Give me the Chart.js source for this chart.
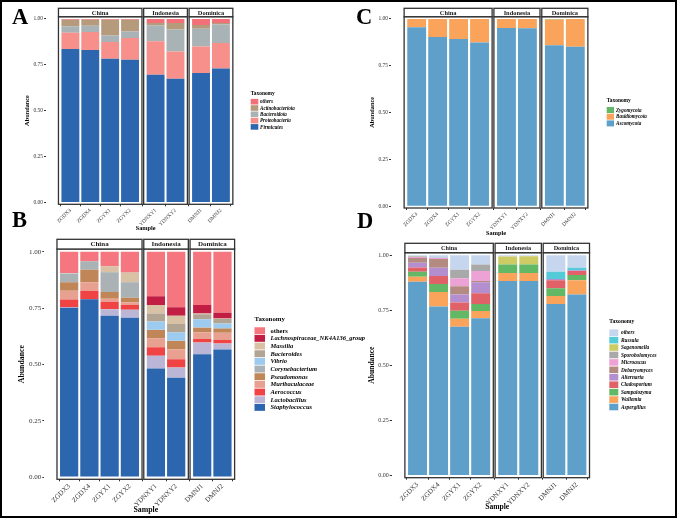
<!DOCTYPE html>
<html>
<head>
<meta charset="utf-8">
<script src="https://cdn.jsdelivr.net/npm/chart.js@4.4.0/dist/chart.umd.min.js"></script>
<style>
html, body { margin: 0; padding: 0; background: #fff; }
#fig { position: relative; width: 677px; height: 518px; overflow: hidden; }
#fig canvas { position: absolute; left: 0; top: 0; }
.frame { position: absolute; left: 0; top: 0; width: 677px; height: 518px; box-sizing: border-box; border: 2px solid #000; pointer-events: none; }
.tag { position: absolute; font: bold 22.5px "Liberation Serif", serif; line-height: 1; color: #000; }
</style>
</head>
<body>
<div id="fig">
  <canvas id="cA" width="677" height="518"></canvas>
  <canvas id="cB" width="677" height="518"></canvas>
  <canvas id="cC" width="677" height="518"></canvas>
  <canvas id="cD" width="677" height="518"></canvas>
  <div class="tag" style="left:12px;top:6px">A</div>
  <div class="tag" style="left:12px;top:209px">B</div>
  <div class="tag" style="left:356px;top:6px">C</div>
  <div class="tag" style="left:357px;top:210px">D</div>
  <div class="frame"></div>
</div>
<script>
// samples and facets
var samples = ['ZGDX3', 'ZGDX4', 'ZGYX1', 'ZGYX2', 'YDNXY1', 'YDNXY2', 'DMNJ1', 'DMNJ2'];
var groups = ['China', 'Indonesia', 'Dominica'];
var groupSizes = [4, 2, 2];
var yTicks = [0, 0.25, 0.5, 0.75, 1];

// A - bacteria, phylum (bottom to top)
var bacPhylumTaxa = ['Firmicutes', 'Proteobacteria', 'Bacteroidota', 'Actinobacteriota', 'others'];
var bacPhylumColors = ['#2b66ae', '#f78f8a', '#a9b2b5', '#b59a7c', '#f37078'];
var bacPhylumValues = [
    [0.836, 0.831, 0.783, 0.778, 0.696, 0.674, 0.705, 0.730],
    [0.088, 0.098, 0.091, 0.118, 0.182, 0.149, 0.145, 0.139],
    [0.036, 0.034, 0.036, 0.035, 0.087, 0.119, 0.097, 0.100],
    [0.036, 0.033, 0.085, 0.064, 0.013, 0.036, 0.020, 0.009],
    [0.004, 0.004, 0.005, 0.005, 0.022, 0.022, 0.033, 0.022]
];

// B - bacteria, genus
var bacGenusTaxa = ['Staphylococcus', 'Lactobacillus', 'Aerococcus', 'Muribaculaceae', 'Pseudomonas',
    'Corynebacterium', 'Vibrio', 'Bacteroides', 'Massilia', 'Lachnospiraceae_NK4A136_group', 'others'];
var bacGenusColors = ['#2b66ae', '#bcb6d6', '#f04444', '#e8a090', '#c08658',
    '#aab2b5', '#9dcbf0', '#b2a493', '#d9c1a5', '#c21e44', '#f5767f'];
var bacGenusValues = [
    [0.751, 0.789, 0.716, 0.707, 0.482, 0.441, 0.545, 0.566],
    [0.003, 0.000, 0.029, 0.035, 0.056, 0.045, 0.052, 0.027],
    [0.034, 0.038, 0.033, 0.022, 0.038, 0.037, 0.016, 0.016],
    [0.039, 0.038, 0.013, 0.012, 0.039, 0.044, 0.030, 0.031],
    [0.038, 0.055, 0.030, 0.020, 0.038, 0.037, 0.020, 0.018],
    [0.037, 0.038, 0.085, 0.065, 0.001, 0.001, 0.001, 0.003],
    [0.001, 0.000, 0.001, 0.001, 0.036, 0.036, 0.036, 0.020],
    [0.001, 0.000, 0.003, 0.004, 0.036, 0.038, 0.022, 0.020],
    [0.001, 0.000, 0.025, 0.042, 0.038, 0.037, 0.004, 0.003],
    [0.001, 0.000, 0.001, 0.001, 0.038, 0.038, 0.038, 0.025],
    [0.094, 0.042, 0.064, 0.091, 0.198, 0.246, 0.236, 0.271]
];

// C - fungi, phylum
var funPhylumTaxa = ['Ascomycota', 'Basidiomycota', 'Zygomycota'];
var funPhylumColors = ['#5fa0cb', '#f9a35b', '#62b865'];
var funPhylumValues = [
    [0.956, 0.904, 0.893, 0.874, 0.952, 0.950, 0.860, 0.851],
    [0.044, 0.096, 0.107, 0.126, 0.048, 0.050, 0.137, 0.149],
    [0.000, 0.000, 0.000, 0.000, 0.000, 0.000, 0.003, 0.000]
];

// D - fungi, genus
var funGenusTaxa = ['Aspergillus', 'Wallemia', 'Sampaiozyma', 'Cladosporium', 'Alternaria',
    'Debaryomyces', 'Microascus', 'Sporobolomyces', 'Sagenomella', 'Russula', 'others'];
var funGenusColors = ['#5fa0cb', '#f9a35b', '#62b865', '#e06167', '#b38fd0',
    '#b38b80', '#eda2d6', '#a9a9a9', '#cdcc64', '#55cbd8', '#c6d6ef'];
var funGenusValues = [
    [0.880, 0.768, 0.676, 0.714, 0.884, 0.884, 0.779, 0.822],
    [0.023, 0.065, 0.036, 0.033, 0.036, 0.036, 0.036, 0.065],
    [0.022, 0.037, 0.036, 0.032, 0.038, 0.038, 0.036, 0.024],
    [0.020, 0.036, 0.038, 0.049, 0.000, 0.000, 0.036, 0.018],
    [0.021, 0.038, 0.036, 0.050, 0.000, 0.000, 0.005, 0.003],
    [0.022, 0.039, 0.038, 0.006, 0.000, 0.000, 0.000, 0.000],
    [0.005, 0.005, 0.036, 0.045, 0.000, 0.000, 0.000, 0.000],
    [0.002, 0.001, 0.038, 0.029, 0.000, 0.000, 0.000, 0.000],
    [0.001, 0.000, 0.000, 0.000, 0.037, 0.038, 0.000, 0.000],
    [0.001, 0.000, 0.000, 0.000, 0.000, 0.000, 0.034, 0.012],
    [0.003, 0.011, 0.066, 0.042, 0.005, 0.004, 0.074, 0.056]
];

var W = 677, H = 518;
var SERIF = '"Liberation Serif", "Times New Roman", serif';

// x positions in ggplot units: each facet spans n + 0.2, bars at 0.6 + k
function facetPositions(gap) {
    var facets = [], pos = [], cur = 0;
    groups.forEach(function(g, k) {
        var n = groupSizes[k];
        for (var j = 0; j < n; j++) pos.push(cur + 0.6 + j);
        facets.push({ name: g, start: cur, end: cur + n + 0.2 });
        cur += n + 0.2 + gap;
    });
    return { facets: facets, pos: pos, total: cur - gap };
}

// panel boxes, strips and legend
var facetPlugin = {
    id: 'facets',
    afterDraw: function(chart, args, o) {
        var ctx = chart.ctx, xs = chart.scales.x, a = chart.chartArea;
        ctx.save();
        ctx.lineWidth = 1.3;
        ctx.strokeStyle = '#333';
        o.facets.forEach(function(f) {
            var x0 = xs.getPixelForValue(f.start), x1 = xs.getPixelForValue(f.end);
            ctx.strokeRect(x0, a.top, x1 - x0, a.bottom - a.top);
            ctx.fillStyle = '#fff';
            ctx.fillRect(x0, a.top - o.stripH, x1 - x0, o.stripH);
            ctx.strokeRect(x0, a.top - o.stripH, x1 - x0, o.stripH);
            ctx.fillStyle = '#1a1a1a';
            ctx.font = 'bold ' + o.stripFont + 'px ' + SERIF;
            ctx.textAlign = 'center';
            ctx.textBaseline = 'middle';
            ctx.fillText(f.name, (x0 + x1) / 2, a.top - o.stripH / 2 + 0.5);
        });

        // legend, top entry = last dataset
        var lg = o.legend;
        ctx.textAlign = 'left';
        ctx.textBaseline = 'middle';
        ctx.fillStyle = '#000';
        ctx.font = 'bold ' + lg.titleFont + 'px ' + SERIF;
        ctx.fillText('Taxonomy', lg.x, lg.titleY);
        var ds = chart.data.datasets.slice().reverse();
        ds.forEach(function(d, i) {
            var y = lg.firstY + i * lg.pitch;
            ctx.fillStyle = d.backgroundColor;
            ctx.fillRect(lg.x, y - lg.keyH / 2, lg.keyW, lg.keyH);
            ctx.fillStyle = '#000';
            var upright = d.label === 'others' && lg.othersUpright;
            ctx.font = (upright ? '' : 'italic ') + 'bold ' + lg.labelFont + 'px ' + SERIF;
            ctx.fillText(d.label, lg.labelX, y + 0.3);
        });
        ctx.restore();
    }
};

function makePanel(id, taxa, values, colors, L) {
    var fp = facetPositions(0.085);
    var lh = L.titleFont * 1.2;
    var axisLeft = L.yTitleX - lh / 2;
    var axisBottom = L.xTitleY + lh / 2;

    var datasets = taxa.map(function(t, k) {
        return {
            label: t,
            backgroundColor: colors[k],
            borderWidth: 0,
            categoryPercentage: 1,
            barPercentage: 0.9,
            data: values[k].map(function(v, i) { return { x: fp.pos[i], y: v }; })
        };
    });

    return new Chart(document.getElementById(id), {
        type: 'bar',
        data: { datasets: datasets },
        options: {
            responsive: false,
            animation: false,
            layout: { padding: { left: axisLeft, right: W - L.box.r, top: L.box.t, bottom: H - axisBottom } },
            plugins: {
                legend: { display: false },
                tooltip: { enabled: false },
                facets: { facets: fp.facets, stripH: L.stripH, stripFont: L.stripFont, legend: L.legend }
            },
            scales: {
                x: {
                    type: 'linear',
                    stacked: true,
                    min: 0,
                    max: fp.total,
                    afterBuildTicks: function(s) { s.ticks = fp.pos.map(function(v) { return { value: v }; }); },
                    afterFit: function(s) { s.height = axisBottom - L.box.b; },
                    ticks: {
                        autoSkip: false, minRotation: 45, maxRotation: 45, padding: 1, color: '#333',
                        font: { family: SERIF, size: L.xTickFont },
                        callback: function(v, i) { return samples[i]; }
                    },
                    grid: { drawOnChartArea: false, drawTicks: true, tickLength: 2, color: '#333' },
                    border: { display: false },
                    title: { display: true, text: 'Sample', color: '#000', padding: 0,
                        font: { family: SERIF, size: L.titleFont, weight: 'bold' } }
                },
                y: {
                    stacked: true,
                    min: -0.01,
                    max: 1.012,
                    afterBuildTicks: function(s) { s.ticks = yTicks.map(function(v) { return { value: v }; }); },
                    afterFit: function(s) { s.width = L.box.l - axisLeft; },
                    ticks: {
                        padding: 1, color: '#333',
                        font: { family: SERIF, size: L.yTickFont },
                        callback: function(v) { return v.toFixed(2); }
                    },
                    grid: { drawOnChartArea: false, drawTicks: true, tickLength: 2, color: '#333' },
                    border: { display: false },
                    title: { display: true, text: 'Abundance', color: '#000', padding: 0,
                        font: { family: SERIF, size: L.titleFont, weight: 'bold' } }
                }
            }
        },
        plugins: [facetPlugin]
    });
}

makePanel('cA', bacPhylumTaxa, bacPhylumValues, bacPhylumColors, {
    box: { l: 46, r: 245.3, t: 16.7, b: 204.3 },
    yTitleX: 27, xTitleY: 228, titleFont: 6.3, yTickFont: 5.5, xTickFont: 5.4,
    stripH: 8.4, stripFont: 6.4,
    legend: { x: 250.7, titleY: 93.3, firstY: 101.7, pitch: 6.3, keyW: 7.6, keyH: 5.6, labelX: 260,
        titleFont: 5.4, labelFont: 5.1 }
});

makePanel('cB', bacGenusTaxa, bacGenusValues, bacGenusColors, {
    box: { l: 44.3, r: 247.3, t: 249, b: 479.3 },
    yTitleX: 21.5, xTitleY: 510, titleFont: 7.8, yTickFont: 7, xTickFont: 7,
    stripH: 9.7, stripFont: 7,
    legend: { x: 254.5, titleY: 319.5, firstY: 330.7, pitch: 7.67, keyW: 10.5, keyH: 6.9, labelX: 270.5,
        titleFont: 6.8, labelFont: 6.5, othersUpright: true }
});

makePanel('cC', funPhylumTaxa, funPhylumValues, funPhylumColors, {
    box: { l: 391, r: 601, t: 16.7, b: 208 },
    yTitleX: 372, xTitleY: 233, titleFont: 6.3, yTickFont: 5.5, xTickFont: 5.4,
    stripH: 8.4, stripFont: 6.4,
    legend: { x: 606.7, titleY: 101, firstY: 110, pitch: 6.7, keyW: 7.3, keyH: 6, labelX: 616,
        titleFont: 5.4, labelFont: 5.1 }
});

makePanel('cD', funGenusTaxa, funGenusValues, funGenusColors, {
    box: { l: 391.7, r: 602.7, t: 252.7, b: 477.7 },
    yTitleX: 372.5, xTitleY: 507.5, titleFont: 7.6, yTickFont: 6, xTickFont: 7,
    stripH: 9.4, stripFont: 6.2,
    legend: { x: 609.3, titleY: 321.7, firstY: 332.7, pitch: 7.43, keyW: 9, keyH: 6.6, labelX: 621,
        titleFont: 5.6, labelFont: 5.3 }
});
</script>
</body>
</html>
